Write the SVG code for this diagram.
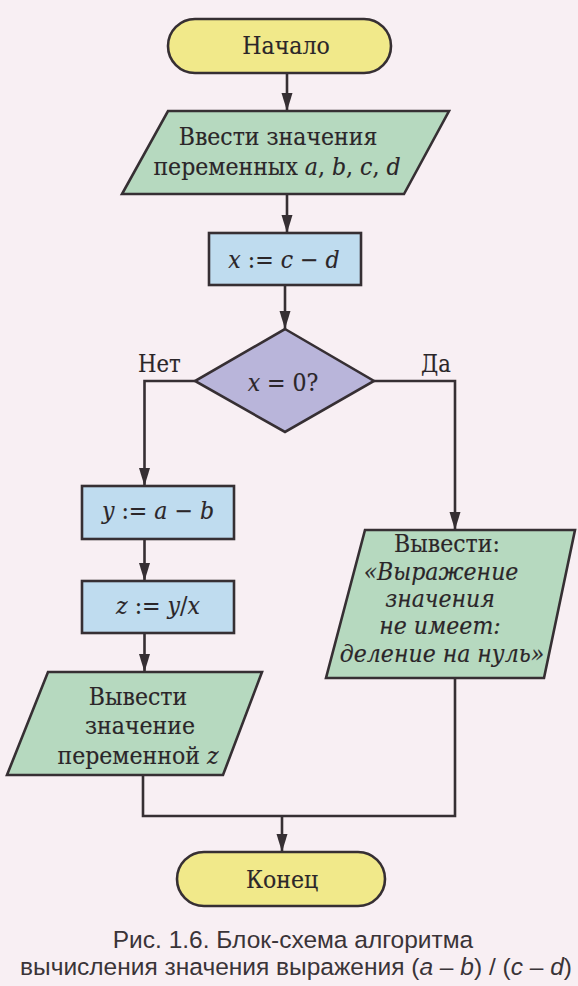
<svg xmlns="http://www.w3.org/2000/svg" width="578" height="986" viewBox="0 0 578 986">
<defs>
<style>
.bg{fill:#f8eff3}
.sh{stroke:#362f33;stroke-width:2.6;stroke-linejoin:miter}
.term{fill:#f1e98a}
.io{fill:#b6d9bf}
.proc{fill:#bfdcef}
.dec{fill:#b9b5da}
.t{font-family:"DejaVu Serif Condensed","DejaVu Serif","Liberation Serif",serif;font-stretch:condensed;font-size:24.5px;fill:#2b2629;stroke:#2b2629;stroke-width:0.15;text-anchor:middle}
.i{font-style:italic}
.lbl{font-family:"DejaVu Serif Condensed","DejaVu Serif","Liberation Serif",serif;font-stretch:condensed;font-size:23.5px;fill:#2b2629;stroke:#2b2629;stroke-width:0.15}
.cap{font-family:"Liberation Sans",Arial,sans-serif;font-size:24.5px;fill:#3a3438;text-anchor:middle}
.c{fill:none;stroke:#362f33;stroke-width:2.6}
</style>
<marker id="ah" markerUnits="userSpaceOnUse" markerWidth="18" markerHeight="12" refX="18" refY="5.5" orient="auto">
<path d="M0,0 L18,5.5 L0,11 z" fill="#362f33"/>
</marker>
</defs>
<rect class="bg" x="0" y="0" width="578" height="986"/>
<g id="connectors">
<path class="c" d="M287 73 V111" marker-end="url(#ah)"/>
<path class="c" d="M287 194 V233" marker-end="url(#ah)"/>
<path class="c" d="M285 285 V329" marker-end="url(#ah)"/>
<path class="c" d="M195 381 H144.5 V486" marker-end="url(#ah)"/>
<path class="c" d="M144.5 539 V581" marker-end="url(#ah)"/>
<path class="c" d="M144.5 633 V672" marker-end="url(#ah)"/>
<path class="c" d="M374 381 H455 V530" marker-end="url(#ah)"/>
<path class="c" d="M143 775 V816 H455 V678"/>
<path class="c" d="M282 816 V852" marker-end="url(#ah)"/>
<text class="lbl" x="138" y="372">Нет</text>
<text class="lbl" x="421" y="372">Да</text>
</g>
<g id="start">
<rect class="sh term" x="168" y="19" width="223" height="54" rx="27"/>
<text class="t" x="286" y="54">Начало</text>
</g>
<g id="input">
<polygon class="sh io" points="168,111 449,111 404,194 122,194"/>
<text class="t" x="278" y="145">Ввести значения</text>
<text class="t" x="277" y="175">переменных  <tspan class="i">a</tspan>, <tspan class="i">b</tspan>, <tspan class="i">c</tspan>, <tspan class="i">d</tspan></text>
</g>
<g id="calc-x">
<rect class="sh proc" x="209" y="233" width="152" height="52"/>
<text class="t" x="284" y="268"><tspan class="i">x</tspan> := <tspan class="i">c</tspan> − <tspan class="i">d</tspan></text>
</g>
<g id="decision">
<polygon class="sh dec" points="285,329 374,381 285,432 195,381"/>
<text class="t" x="283" y="391"><tspan class="i">x</tspan> = 0?</text>
</g>
<g id="calc-y">
<rect class="sh proc" x="82" y="486" width="152" height="53"/>
<text class="t" x="158" y="519"><tspan class="i">y</tspan> := <tspan class="i">a</tspan> − <tspan class="i">b</tspan></text>
</g>
<g id="calc-z">
<rect class="sh proc" x="82" y="581" width="152" height="52"/>
<text class="t" x="158" y="614"><tspan class="i">z</tspan> := <tspan class="i">y</tspan>/<tspan class="i">x</tspan></text>
</g>
<g id="output-z">
<polygon class="sh io" points="48,672 262,672 223,775 7,775"/>
<text class="t" x="138" y="705">Вывести</text>
<text class="t" x="140" y="734">значение</text>
<text class="t" x="138" y="764">переменной  <tspan class="i">z</tspan></text>
</g>
<g id="output-msg">
<polygon class="sh io" points="365,530 575,530 544,678 326,678"/>
<text class="t" x="447" y="552">Вывести:</text>
<text class="t i" x="441" y="580">«Выражение</text>
<text class="t i" x="440" y="607">значения</text>
<text class="t i" x="440" y="634">не имеет:</text>
<text class="t i" x="442" y="662">деление на нуль»</text>
</g>
<g id="end">
<rect class="sh term" x="177" y="852" width="208" height="54" rx="27"/>
<text class="t" x="282" y="888">Конец</text>
</g>
<g id="caption">
<text class="cap" x="293" y="948">Рис. 1.6. Блок-схема алгоритма</text>
<text class="cap" x="296" y="975">вычисления значения выражения (<tspan font-style="italic">a</tspan> – <tspan font-style="italic">b</tspan>) / (<tspan font-style="italic">c</tspan> – <tspan font-style="italic">d</tspan>)</text>
</g>
</svg>
